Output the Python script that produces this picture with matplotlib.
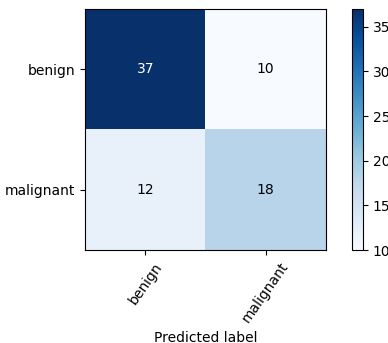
import numpy as np
import matplotlib
matplotlib.use("Agg")
import matplotlib.pyplot as plt

classes = ["benign", "malignant"]
cm = np.array([[37, 10],
               [12, 18]])

fig = plt.figure(figsize=(3.88, 3.43), dpi=100)
ax = fig.add_axes([0.219, 0.271, 0.621, 0.703])
cax = fig.add_axes([0.907, 0.271, 0.029, 0.703])

im = ax.imshow(cm, interpolation="nearest", cmap=plt.cm.Blues, aspect="auto")
cbar = fig.colorbar(im, cax=cax)
cbar.set_ticks([10, 15, 20, 25, 30, 35])

ticks = np.arange(len(classes))
ax.set_xticks(ticks)
ax.set_xticklabels(classes, rotation=55)
ax.set_yticks(ticks)
ax.set_yticklabels(classes)

# annotate each cell, white text on dark cells
thresh = cm.max() / 2.0
for i in range(cm.shape[0]):
    for j in range(cm.shape[1]):
        ax.text(j, i, format(cm[i, j], "d"), ha="center", va="center",
                color="white" if cm[i, j] > thresh else "black")

ax.set_xlabel("Predicted label")

fig.savefig("out.png", dpi=100)
